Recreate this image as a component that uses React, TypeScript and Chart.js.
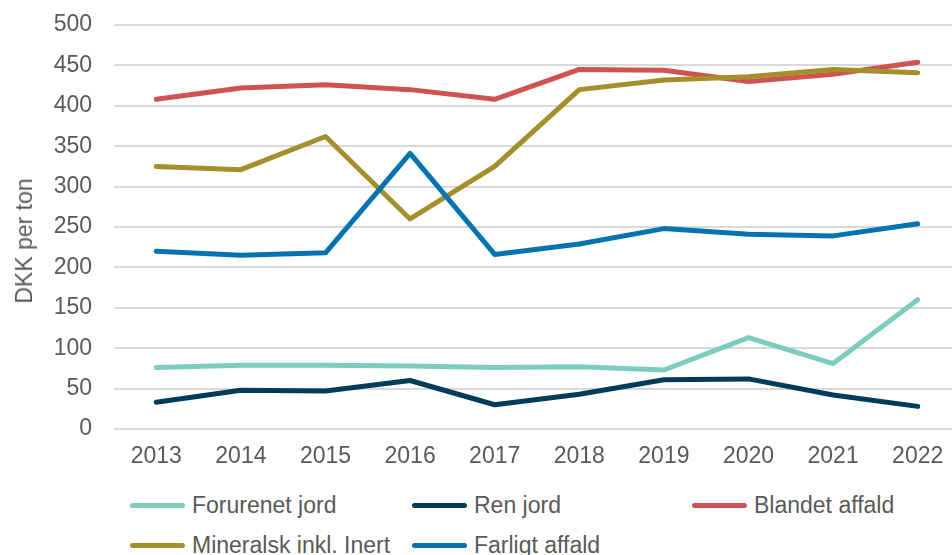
import React, { useEffect, useRef } from "react";
import { Chart, registerables } from "chart.js";

Chart.register(...registerables);

const years = ["2013", "2014", "2015", "2016", "2017", "2018", "2019", "2020", "2021", "2022"];
const forurenetJord = [76, 79, 79, 78, 76, 77, 73, 113, 81, 160];
const renJord = [33, 48, 47, 60, 30, 43, 61, 62, 42, 28];
const blandetAffald = [408, 422, 426, 420, 408, 445, 444, 430, 439, 454];
const mineralsk = [325, 321, 362, 260, 325, 420, 432, 436, 445, 441];
const farligtAffald = [220, 215, 218, 341, 216, 229, 248, 241, 239, 254];

const seriesNames = ["Forurenet jord", "Ren jord", "Blandet affald", "Mineralsk inkl. Inert", "Farligt affald"];
const seriesColors = ["#7ccdbf", "#003b5c", "#cf5350", "#a58f2b", "#0573b0"];
const seriesData = [forurenetJord, renJord, blandetAffald, mineralsk, farligtAffald];
const yAxisTitle = "DKK per ton";

const FONT = "'Liberation Sans', Arial, sans-serif";
const TEXT = "#595959";

export default function App() {
  const ref = useRef<HTMLCanvasElement | null>(null);

  useEffect(() => {
    if (!ref.current) return;
    const chart = new Chart(ref.current, {
      type: "line",
      data: {
        labels: years,
        datasets: seriesData.map((d, i) => ({
          label: seriesNames[i],
          data: d,
          borderColor: seriesColors[i],
          backgroundColor: seriesColors[i],
          borderWidth: 5,
          pointRadius: 0,
          borderCapStyle: "round" as const,
          borderJoinStyle: "round" as const,
          tension: 0,
          order: seriesData.length - 1 - i,
        })),
      },
      options: {
        responsive: false,
        animation: false,
        layout: { padding: { top: 25, left: 0, right: 0, bottom: 0 } },
        plugins: {
          legend: { display: false },
          tooltip: { enabled: false },
          title: { display: false },
        },
        scales: {
          x: {
            offset: true,
            grid: { display: false, drawTicks: false },
            border: { display: false },
            ticks: {
              color: TEXT,
              font: { family: FONT, size: 23 },
              padding: 14,
              maxRotation: 0,
              autoSkip: false,
            },
            afterFit: (s: any) => {
              s.height = 41;
            },
          },
          y: {
            min: 0,
            max: 500,
            ticks: {
              stepSize: 50,
              color: TEXT,
              font: { family: FONT, size: 23 },
              padding: 0,
            },
            grid: {
              color: "#d9d9d9",
              lineWidth: 2,
              drawTicks: true,
              tickLength: 22,
              tickColor: "rgba(0,0,0,0)",
            },
            border: { display: false },
            title: { display: false },
            afterFit: (s: any) => {
              s.width = 114;
            },
          },
        },
      },
    });
    return () => chart.destroy();
  }, []);

  const legendRows = [
    [0, 1, 2],
    [3, 4],
  ];

  return (
    <div
      style={{
        position: "absolute",
        left: 0,
        top: 0,
        width: 952,
        height: 555,
        overflow: "hidden",
        background: "#ffffff",
      }}
    >
      <canvas ref={ref} width={960} height={470} style={{ position: "absolute", left: 0, top: 0 }} />
      <div
        style={{
          position: "absolute",
          left: 24,
          top: 241,
          transform: "translate(-50%, -50%) rotate(-90deg)",
          fontFamily: FONT,
          fontSize: 23,
          color: TEXT,
          whiteSpace: "nowrap",
          lineHeight: "28px",
        }}
      >
        {yAxisTitle}
      </div>
      <div
        style={{
          position: "absolute",
          left: 130,
          top: 485,
          display: "grid",
          gridTemplateColumns: "282px 280px 280px",
          gridAutoRows: "40px",
          fontFamily: FONT,
          fontSize: 23,
          color: TEXT,
        }}
      >
        {legendRows.flat().map((i) => (
          <div key={i} style={{ display: "flex", alignItems: "center", height: 40, whiteSpace: "nowrap" }}>
            <span
              style={{
                display: "inline-block",
                width: 55,
                height: 5,
                borderRadius: 3,
                background: seriesColors[i],
                marginRight: 7,
              }}
            />
            <span>{seriesNames[i]}</span>
          </div>
        ))}
      </div>
    </div>
  );
}
